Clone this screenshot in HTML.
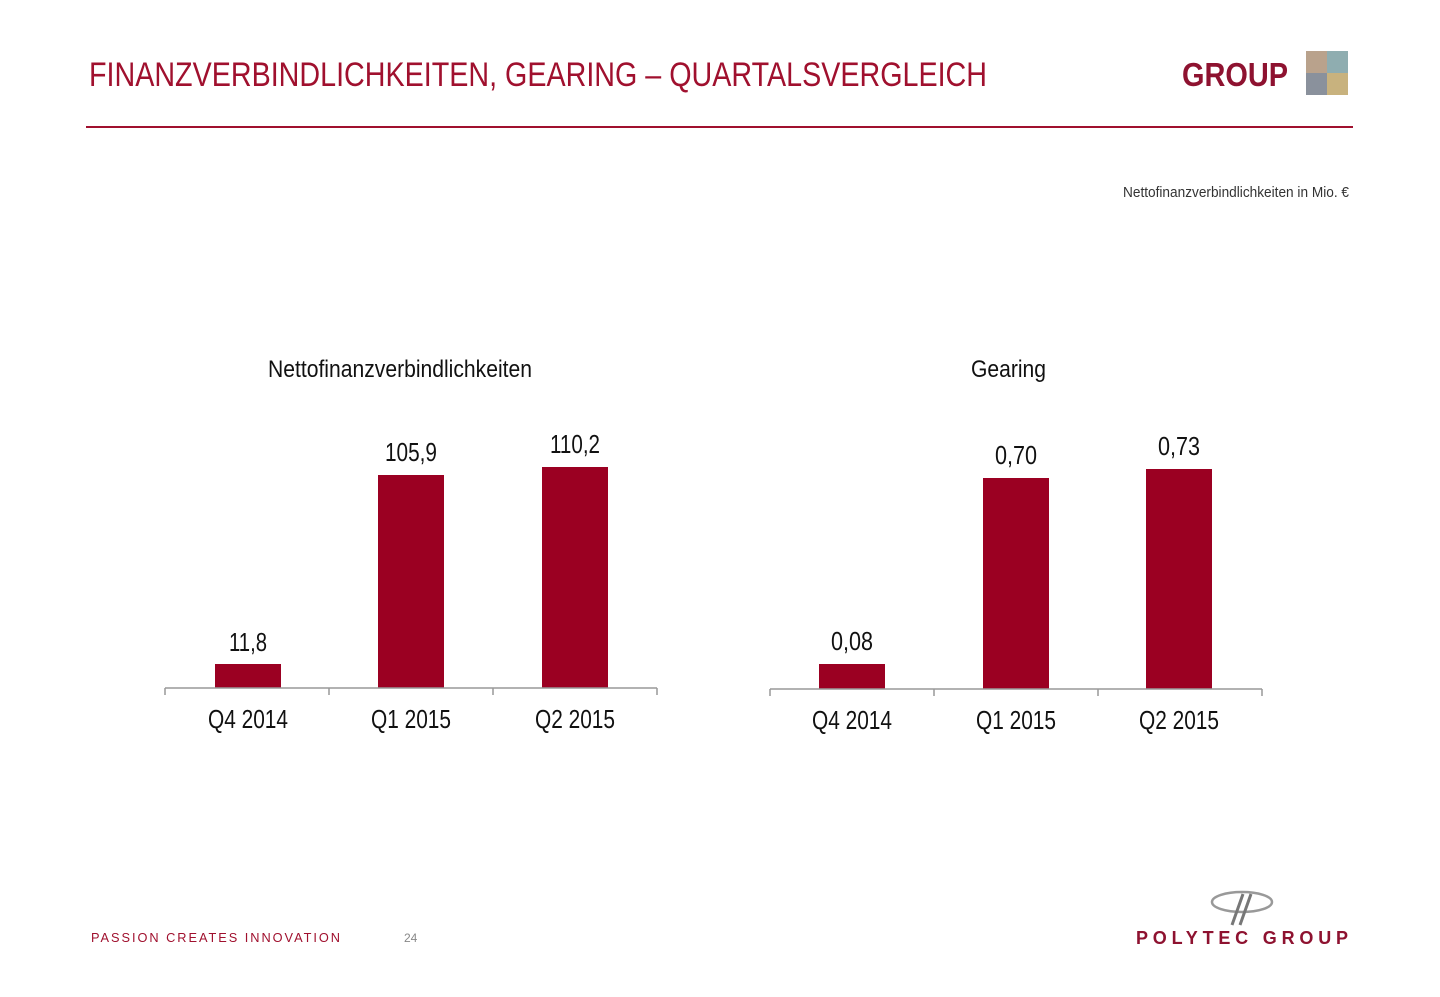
<!DOCTYPE html>
<html><head><meta charset="utf-8"><style>
html,body{margin:0;padding:0;background:#fff;}
svg{display:block;font-family:"Liberation Sans",sans-serif;}
</style></head><body>
<svg width="1440" height="997" viewBox="0 0 1440 997">
<text x="89" y="86" font-size="34" fill="#a0102e" textLength="898" lengthAdjust="spacingAndGlyphs">FINANZVERBINDLICHKEITEN, GEARING – QUARTALSVERGLEICH</text>
<text x="1182" y="86" font-size="33" font-weight="bold" fill="#8e1230" textLength="106" lengthAdjust="spacingAndGlyphs">GROUP</text>
<rect x="1306" y="51" width="21" height="22" fill="#b9a28c"/>
<rect x="1327" y="51" width="21" height="22" fill="#8fadb0"/>
<rect x="1306" y="73" width="21" height="22" fill="#8a919c"/>
<rect x="1327" y="73" width="21" height="22" fill="#c8b27e"/>
<line x1="86" y1="127" x2="1353" y2="127" stroke="#a0102e" stroke-width="2"/>
<text x="1123" y="197" font-size="15" fill="#333" textLength="226" lengthAdjust="spacingAndGlyphs">Nettofinanzverbindlichkeiten in Mio. €</text>

<text x="268" y="377" font-size="24" fill="#111" textLength="264" lengthAdjust="spacingAndGlyphs">Nettofinanzverbindlichkeiten</text>
<text x="971" y="377" font-size="24" fill="#111" textLength="75" lengthAdjust="spacingAndGlyphs">Gearing</text>

<g fill="#9b0022">
<rect x="215" y="664" width="66" height="24"/>
<rect x="378" y="475" width="66" height="213"/>
<rect x="542" y="467" width="66" height="221"/>
<rect x="819" y="664" width="66" height="25"/>
<rect x="983" y="478" width="66" height="211"/>
<rect x="1146" y="469" width="66" height="220"/>
</g>
<g stroke="#999" stroke-width="1.5" fill="none">
<path d="M165 688H657M165 688v7M329 688v7M493 688v7M657 688v7"/>
<path d="M770 689H1262M770 689v7M934 689v7M1098 689v7M1262 689v7"/>
</g>
<g font-size="26" fill="#111" text-anchor="middle">
<text x="248" y="651" textLength="38" lengthAdjust="spacingAndGlyphs">11,8</text>
<text x="411" y="461" textLength="52" lengthAdjust="spacingAndGlyphs">105,9</text>
<text x="575" y="453" textLength="50" lengthAdjust="spacingAndGlyphs">110,2</text>
<text x="852" y="650" textLength="42" lengthAdjust="spacingAndGlyphs">0,08</text>
<text x="1016" y="464" textLength="42" lengthAdjust="spacingAndGlyphs">0,70</text>
<text x="1179" y="455" textLength="42" lengthAdjust="spacingAndGlyphs">0,73</text>
<text x="248" y="728" textLength="80" lengthAdjust="spacingAndGlyphs">Q4 2014</text>
<text x="411" y="728" textLength="80" lengthAdjust="spacingAndGlyphs">Q1 2015</text>
<text x="575" y="728" textLength="80" lengthAdjust="spacingAndGlyphs">Q2 2015</text>
<text x="852" y="729" textLength="80" lengthAdjust="spacingAndGlyphs">Q4 2014</text>
<text x="1016" y="729" textLength="80" lengthAdjust="spacingAndGlyphs">Q1 2015</text>
<text x="1179" y="729" textLength="80" lengthAdjust="spacingAndGlyphs">Q2 2015</text>
</g>

<text x="91" y="942" font-size="13" fill="#a0102e" letter-spacing="2" textLength="251" lengthAdjust="spacingAndGlyphs">PASSION CREATES INNOVATION</text>
<text x="404" y="942" font-size="12" fill="#888">24</text>
<ellipse cx="1242" cy="902" rx="30" ry="10" fill="none" stroke="#999" stroke-width="2.5"/>
<path d="M1243 894 L1232 925 M1251 894 L1240 925" stroke="#777" stroke-width="3"/>
<text x="1136" y="944" font-size="18" font-weight="bold" fill="#8e1230" textLength="212" lengthAdjust="spacing">POLYTEC GROUP</text>
</svg>
</body></html>
